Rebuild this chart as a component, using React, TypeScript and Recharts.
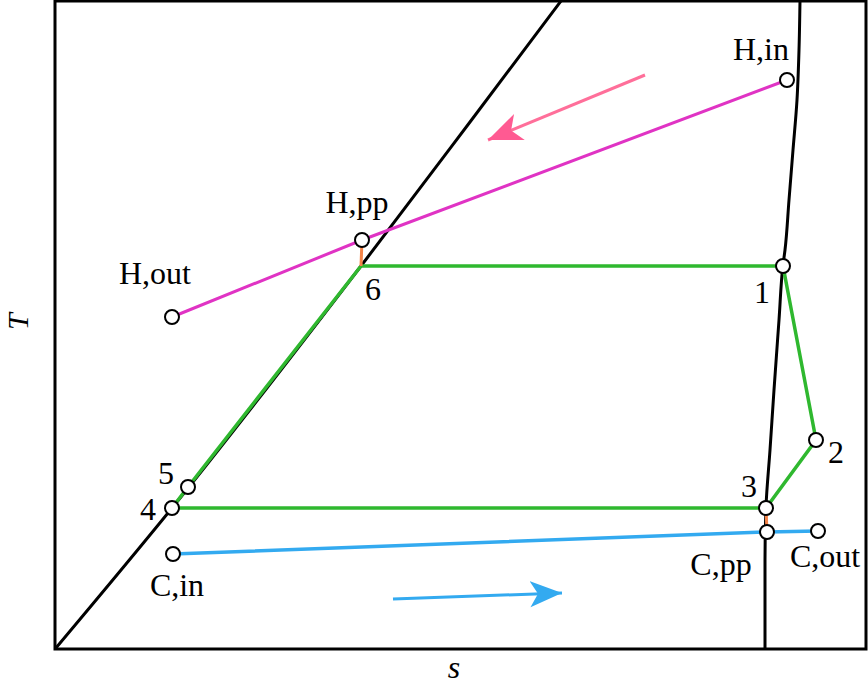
import React from 'react';
import { ComposedChart, Line, Scatter, XAxis, YAxis, ReferenceArea, Label } from 'recharts';

// Units: s (entropy, arbitrary units), T (temperature, arbitrary units)
const satLiquid = [
  { s: 0, T: 0 },
  { s: 117, T: 141 },
  { s: 306, T: 383 },
  { s: 415, T: 527 },
  { s: 506, T: 648 },
];

const satVapor = [
  { s: 745, T: 648 },
  { s: 744, T: 599 },
  { s: 742, T: 549 },
  { s: 738, T: 499 },
  { s: 734, T: 449 },
  { s: 730, T: 399 },
  { s: 728, T: 384 },
  { s: 724, T: 329 },
  { s: 719, T: 259 },
  { s: 715, T: 199 },
  { s: 711, T: 142 },
  { s: 710, T: 89 },
  { s: 710, T: 0 },
];

const hotStream = [
  { name: 'H,in', s: 732, T: 569 },
  { name: 'H,pp', s: 307, T: 409 },
  { name: 'H,out', s: 117, T: 332 },
];

const coldStream = [
  { name: 'C,in', s: 118, T: 95 },
  { name: 'C,pp', s: 712, T: 117 },
  { name: 'C,out', s: 763, T: 118 },
];

const cycle = [
  { name: '6', s: 306, T: 383 },
  { name: '1', s: 728, T: 383 },
  { name: '2', s: 761, T: 209 },
  { name: '3', s: 711, T: 141 },
  { name: '4', s: 117, T: 141 },
  { name: '5', s: 133, T: 162 },
  { name: '6', s: 306, T: 383 },
];

const pinchHot = [
  { s: 307, T: 409 },
  { s: 306, T: 383 },
];
const pinchCold = [
  { s: 712, T: 117 },
  { s: 711, T: 141 },
];

const hotArrow = [
  { s: 590, T: 574 },
  { s: 433, T: 509 },
];
const coldArrow = [
  { s: 338, T: 50 },
  { s: 507, T: 56 },
];

const markedPoints = [
  hotStream[0], hotStream[1], hotStream[2],
  cycle[1], cycle[2], cycle[3], cycle[4], cycle[5],
  coldStream[0], coldStream[1], coldStream[2],
];
const unmarkedPoints = [cycle[0]];

const labelOffsets: Record<string, [number, number]> = {
  'H,in': [-26, -20],
  'H,pp': [-5, -27],
  'H,out': [-17, -33],
  '1': [-21, 37],
  '2': [20, 23],
  '3': [-17, -11],
  '4': [-24, 12],
  '5': [-22, -3],
  '6': [12, 34],
  'C,in': [4, 42],
  'C,pp': [-46, 43],
  'C,out': [7, 36],
};

const FONT = '"Liberation Serif", "Times New Roman", serif';

const renderPoint = (withCircle: boolean) => (props: any) => {
  const { cx, cy, payload } = props;
  const off = labelOffsets[payload.name] || [0, 0];
  return (
    <g>
      {withCircle && (
        <circle cx={cx} cy={cy} r={7} fill="#fff" stroke="#000" strokeWidth={2} />
      )}
      <text
        x={cx + off[0]}
        y={cy + off[1]}
        textAnchor="middle"
        fontFamily={FONT}
        fontSize={32}
        fill="#000"
      >
        {payload.name}
      </text>
    </g>
  );
};

export default function App() {
  return (
    <div style={{ position: 'absolute', left: 0, top: 0 }}>
      <svg width={0} height={0} style={{ position: 'absolute' }}>
        <defs>
          <marker
            id="pinkHead"
            markerUnits="userSpaceOnUse"
            markerWidth={36}
            markerHeight={30}
            refX={34}
            refY={14}
            orient="auto"
          >
            <path d="M0,0 L34,14 L0,28 L9,14 Z" fill="#ff5a92" />
          </marker>
          <marker
            id="blueHead"
            markerUnits="userSpaceOnUse"
            markerWidth={36}
            markerHeight={30}
            refX={32}
            refY={13}
            orient="auto"
          >
            <path d="M0,0 L32,13 L0,26 L8,13 Z" fill="#33aaf0" />
          </marker>
        </defs>
      </svg>
      <ComposedChart
        width={868}
        height={689}
        margin={{ top: 1, right: 2, left: 0, bottom: 0 }}
      >
        <XAxis
          type="number"
          dataKey="s"
          domain={[0, 811]}
          tick={false}
          tickLine={false}
          axisLine={false}
          height={40}
        >
          <Label
            content={(p: any) => {
              const vb = p.viewBox || { x: 55, y: 649, width: 811, height: 40 };
              return (
                <text
                  x={vb.x + vb.width * 0.492}
                  y={vb.y + 29}
                  textAnchor="middle"
                  fontFamily={FONT}
                  fontStyle="italic"
                  fontSize={32}
                  fill="#000"
                >
                  s
                </text>
              );
            }}
          />
        </XAxis>
        <YAxis
          type="number"
          dataKey="T"
          domain={[0, 648]}
          tick={false}
          tickLine={false}
          axisLine={false}
          width={55}
        >
          <Label
            content={(p: any) => {
              const vb = p.viewBox || { x: 0, y: 1, width: 55, height: 648 };
              const x = vb.x + 28;
              const y = vb.y + vb.height * 0.495;
              return (
                <text
                  x={x}
                  y={y}
                  transform={`rotate(-90 ${x} ${y})`}
                  textAnchor="middle"
                  fontFamily={FONT}
                  fontStyle="italic"
                  fontSize={30}
                  fill="#000"
                >
                  T
                </text>
              );
            }}
          />
        </YAxis>
        <ReferenceArea
          x1={0}
          x2={811}
          y1={0}
          y2={648}
          fill="none"
          fillOpacity={0}
          stroke="#000"
          strokeWidth={3}
          ifOverflow="visible"
        />
        <Line data={satLiquid} dataKey="T" type="monotoneX" stroke="#000" strokeWidth={3} dot={false} activeDot={false} isAnimationActive={false} />
        <Line data={satVapor} dataKey="T" type="monotoneY" stroke="#000" strokeWidth={3} dot={false} activeDot={false} isAnimationActive={false} />
        <Line data={hotStream} dataKey="T" type="linear" stroke="#e033c4" strokeWidth={3} dot={false} activeDot={false} isAnimationActive={false} />
        <Line data={coldStream} dataKey="T" type="linear" stroke="#33aaf0" strokeWidth={3.5} dot={false} activeDot={false} isAnimationActive={false} />
        <Line data={cycle} dataKey="T" type="linear" stroke="#2fb82f" strokeWidth={3.5} dot={false} activeDot={false} isAnimationActive={false} />
        <Line data={pinchHot} dataKey="T" type="linear" stroke="#f58448" strokeWidth={3} dot={false} activeDot={false} isAnimationActive={false} />
        <Line data={pinchCold} dataKey="T" type="linear" stroke="#f58448" strokeWidth={3} dot={false} activeDot={false} isAnimationActive={false} />
        <Line data={hotArrow} dataKey="T" type="linear" stroke="#ff6f9a" strokeWidth={3} dot={false} activeDot={false} markerEnd="url(#pinkHead)" isAnimationActive={false} />
        <Line data={coldArrow} dataKey="T" type="linear" stroke="#33aaf0" strokeWidth={3} dot={false} activeDot={false} markerEnd="url(#blueHead)" isAnimationActive={false} />
        <Scatter data={unmarkedPoints} dataKey="T" shape={renderPoint(false)} isAnimationActive={false} />
        <Scatter data={markedPoints} dataKey="T" shape={renderPoint(true)} isAnimationActive={false} />
      </ComposedChart>
    </div>
  );
}
